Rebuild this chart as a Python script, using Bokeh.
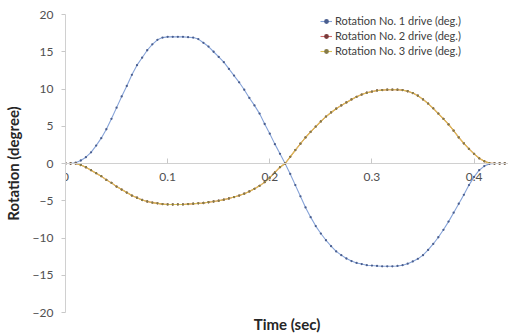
from bokeh.plotting import figure
from bokeh.models import Range1d, FixedTicker, Legend, LegendItem, Title
from bokeh.embed import file_html
from bokeh.resources import INLINE

# time (sec), sampled every 0.005 s
time_sec = [round(i * 0.005, 3) for i in range(88)]

drive1 = [
    0.0, 0.0, 0.1, 0.4, 0.85, 1.5, 2.4, 3.4, 4.6, 6.0,
    7.5, 9.0, 10.4, 11.9, 13.2, 14.2, 15.2, 16.0, 16.6, 16.9,
    17.0, 17.0, 17.0, 17.0, 16.95, 16.9, 16.7, 16.2, 15.7, 15.0,
    14.3, 13.6, 12.7, 11.8, 10.9, 9.9, 8.8, 7.8, 6.7, 5.3,
    4.0, 2.6, 1.3, 0.0, -1.4, -2.9, -4.4, -5.9, -7.2, -8.4,
    -9.4, -10.3, -11.1, -11.8, -12.3, -12.75, -13.1, -13.35, -13.5, -13.65,
    -13.7, -13.75, -13.8, -13.8, -13.8, -13.75, -13.65, -13.45, -13.15, -12.8,
    -12.3, -11.6, -10.8, -9.9, -8.9, -7.8, -6.6, -5.4, -4.2, -2.9,
    -1.8, -0.9, -0.35, -0.05, 0.0, 0.0, 0.0, 0.0,
]

drive2 = [
    0.0, 0.0, 0.0, -0.2, -0.5, -0.9, -1.3, -1.7, -2.2, -2.6,
    -3.1, -3.5, -3.9, -4.3, -4.6, -4.9, -5.1, -5.25, -5.35, -5.45,
    -5.5, -5.5, -5.5, -5.5, -5.45, -5.4, -5.35, -5.3, -5.2, -5.1,
    -5.0, -4.85, -4.7, -4.5, -4.3, -4.05, -3.75, -3.4, -3.0, -2.5,
    -1.9, -1.2, -0.5, 0.0, 0.9, 1.8, 2.65, 3.5, 4.25, 4.95,
    5.65, 6.3, 6.85, 7.35, 7.8, 8.2, 8.6, 8.95, 9.25, 9.5,
    9.65, 9.8, 9.85, 9.9, 9.9, 9.9, 9.85, 9.7, 9.45, 9.1,
    8.6, 8.05, 7.4, 6.7, 6.0, 5.25, 4.4, 3.5, 2.7, 1.95,
    1.3, 0.7, 0.3, 0.05, 0.0, 0.0, 0.0, 0.0,
]

drive3 = list(drive2)

series_names = [
    "Rotation No. 1 drive (deg.)",
    "Rotation No. 2 drive (deg.)",
    "Rotation No. 3 drive (deg.)",
]
y_ticks = [-20, -15, -10, -5, 0, 5, 10, 15, 20]
x_ticks = [0, 0.1, 0.2, 0.3, 0.4]

FONT = "Lato"

p = figure(
    width=508, height=334,
    output_backend="svg", toolbar_location=None,
    x_range=Range1d(0, 0.4337), y_range=Range1d(-20, 20),
    min_border_left=57, min_border_right=0, min_border_top=14, min_border_bottom=22,
    outline_line_color=None,
)
p.background_fill_color = "white"
p.border_fill_color = "white"
p.xgrid.visible = False
p.ygrid.visible = False

# x axis crossing at y = 0
xa = p.xaxis[0]
xa.fixed_location = 0
xa.ticker = FixedTicker(ticks=x_ticks)
xa.major_label_overrides = {0: "0", 0.1: "0.1", 0.2: "0.2", 0.3: "0.3", 0.4: "0.4"}
xa.axis_line_color = "#d0d0d0"
xa.major_tick_line_color = "#c8c8c8"
xa.major_tick_in = 5
xa.major_tick_out = 0
xa.minor_tick_line_color = None
xa.major_label_text_font = FONT
xa.major_label_text_font_size = "12px"
xa.major_label_text_color = "#505050"
xa.major_label_standoff = 9

ya = p.yaxis[0]
ya.ticker = FixedTicker(ticks=y_ticks)
ya.axis_line_color = "#d0d0d0"
ya.major_tick_line_color = "#c8c8c8"
ya.major_tick_in = 0
ya.major_tick_out = 4
ya.minor_tick_line_color = None
ya.major_label_text_font = FONT
ya.major_label_text_font_size = "12px"
ya.major_label_text_color = "#505050"
ya.major_label_standoff = 8
ya.axis_label = "Rotation (degree)"
ya.axis_label_text_font = FONT
ya.axis_label_text_font_size = "15px"
ya.axis_label_text_font_style = "bold"
ya.axis_label_text_color = "#262626"
ya.axis_label_standoff = 8

p.add_layout(Title(text="Time (sec)", align="center", text_font=FONT,
                   text_font_size="15px", text_font_style="bold",
                   text_color="#262626", standoff=0), "below")

line_colors = ["#86a3d8", "#d06a6a", "#dcc052"]
marker_colors = ["#4a5e8e", "#7a3a3a", "#857a48"]
data = [drive1, drive2, drive3]

items = []
for name, ys, lc, mc in zip(series_names, data, line_colors, marker_colors):
    r1 = p.line(time_sec, ys, line_color=lc, line_width=1.1)
    r2 = p.scatter(time_sec, ys, size=2.3, marker="circle",
                   fill_color=mc, line_color=None)
    items.append(LegendItem(label=name, renderers=[r1, r2]))

legend = Legend(items=items, location=(255, 255), border_line_color=None,
                background_fill_alpha=0, padding=0, spacing=2,
                label_height=12, glyph_height=12, glyph_width=12,
                label_standoff=3, label_text_font=FONT,
                label_text_font_size="11px", label_text_color="#404040",
                margin=0)
p.add_layout(legend, "center")

html = file_html(p, INLINE)
open("out.html", "w").write(html)
